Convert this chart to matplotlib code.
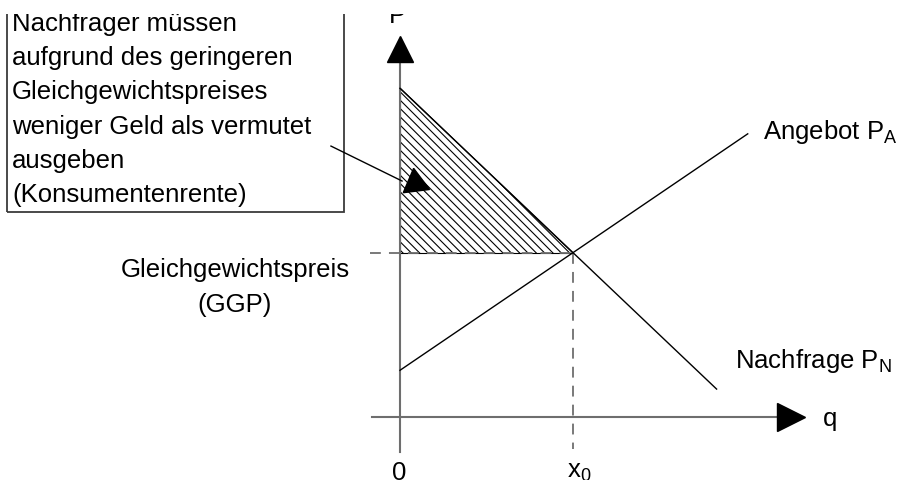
import matplotlib
matplotlib.use("Agg")
import matplotlib.pyplot as plt
import numpy as np
from matplotlib.patches import Rectangle, Polygon

plt.rcParams["font.family"] = ["Liberation Sans", "DejaVu Sans"]
plt.rcParams["mathtext.fontset"] = "custom"
plt.rcParams["mathtext.rm"] = "Liberation Sans"
plt.rcParams["mathtext.it"] = "Liberation Sans"
plt.rcParams["mathtext.default"] = "regular"
plt.rcParams["hatch.linewidth"] = 0.8

# Modell (Einheiten: Menge q, Preis P)
x0 = 10.0
demand_intercept = 19.0
demand_slope = -0.95
supply_intercept = 2.7
supply_slope = 0.68
demand_q = np.array([0.0, 18.3])
supply_q = np.array([0.0, 20.1])
ggp = demand_intercept + demand_slope * x0

box_lines = ["Nachfrager müssen", "aufgrund des geringeren", "Gleichgewichtspreises",
             "weniger Geld als vermutet", "ausgeben", "(Konsumentenrente)"]
ggp_lines = ["Gleichgewichtspreis", "(GGP)"]
label_supply = "Angebot P$_A$"
label_demand = "Nachfrage P$_N$"

# Seitenlayout: Pixel pro Einheit, Ursprung in Pixeln
S = 17.3
ox, oy = 400, 418
W, H, top_cut = 899, 481, 15

fig = plt.figure(figsize=(W / 100, H / 100), dpi=100)
ax = fig.add_axes([0, 0, 1, (H - top_cut) / H])
ax.set_xlim(-ox / S, (W - ox) / S)
ax.set_ylim((oy - H) / S, (oy - top_cut) / S)
ax.axis("off")

fs = 18.5
axis_col = "#6e6e6e"

# Konsumentenrente (schraffiert)
tri = Polygon([[0, demand_intercept], [0, ggp], [x0, ggp]], closed=True,
              facecolor="white", edgecolor="black", hatch="\\\\\\\\", lw=0.8, zorder=1)
ax.add_patch(tri)

# Achsen
ax.plot([0, 0], [-2.02, 20.5], color=axis_col, lw=1.5, zorder=2)
ax.plot([-1.62, 21.9], [0, 0], color=axis_col, lw=1.5, zorder=2)
ax.plot(0, 21.27, marker="^", ms=19, color="black", zorder=3)
ax.plot(22.63, 0, marker=">", ms=20, color="black", zorder=3)

# Kurven
ax.plot(demand_q, demand_intercept + demand_slope * demand_q, color="black", lw=1, zorder=3)
ax.plot(supply_q, supply_intercept + supply_slope * supply_q, color="black", lw=1, zorder=3)

# Hilfslinien
ax.plot([x0, x0], [ggp, -1.85], color=axis_col, lw=1.3, ls=(0, (6, 4.5)), zorder=2)
ax.plot([-1.73, x0], [ggp, ggp], color=axis_col, lw=1.3, ls=(0, (6, 4.5)), zorder=2)

# Textfeld
box = Rectangle((-22.72, 11.85), 22.72 - 3.24, 14, facecolor="none",
                edgecolor="#3a3a3a", lw=1.3, zorder=4)
ax.add_patch(box)
step = 34.2 / S
for i, line in enumerate(box_lines):
    ax.text(-22.43, 22.37 - i * step, line, fontsize=fs, ha="left", va="baseline", clip_on=True)

ax.plot([-3.99, 0.12], [15.66, 13.64], color="black", lw=1, zorder=4)
ax.plot(0.87, 13.55, marker=(3, 0, 7), ms=22, color="black", zorder=5)

# Beschriftungen
ax.text(-0.14, 22.83, "P", fontsize=fs, ha="center", va="baseline", clip_on=True)
ax.text(24.45, -0.46, "q", fontsize=fs, ha="left", va="baseline")
ax.text(-0.06, -3.58, "0", fontsize=fs, ha="center", va="baseline", clip_on=True)
ax.text(9.65, -3.47, "x$_0$", fontsize=fs, ha="left", va="baseline", clip_on=True)
ax.text(20.98, 16.13, label_supply, fontsize=fs, ha="left", va="baseline")
ax.text(19.36, 2.89, label_demand, fontsize=fs, ha="left", va="baseline")
for i, line in enumerate(ggp_lines):
    ax.text(-9.54, 8.15 - i * 35 / S, line, fontsize=fs, ha="center", va="baseline")

fig.savefig("out.png", dpi=100)
